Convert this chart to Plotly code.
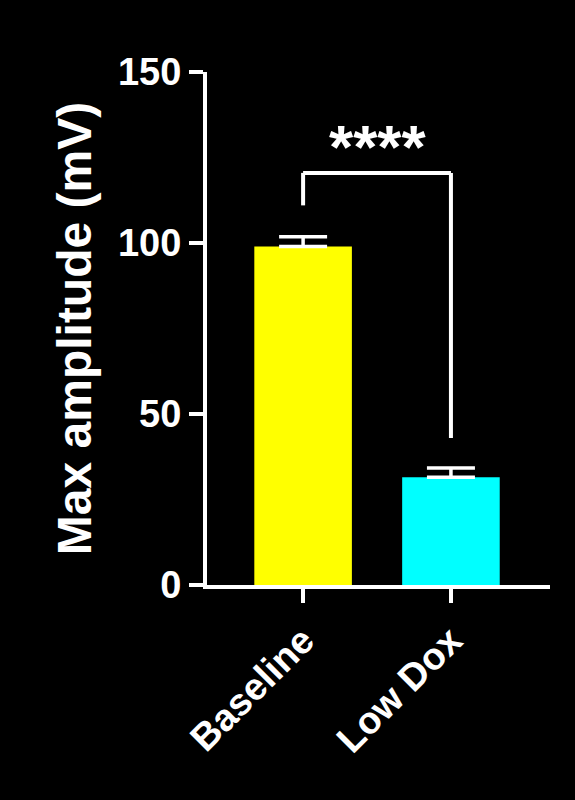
import plotly.graph_objects as go

groups = ["Baseline", "Low Dox"]
means = [99, 31.5]
sems = [2.8, 2.7]
colors = ["#ffff00", "#00ffff"]
sig_label = "****"
bracket_top = 120.5
bracket_legs = [111, 43]

fig = go.Figure()
fig.add_trace(go.Bar(
    x=[0, 1], y=means, width=0.66,
    marker=dict(color=colors, line=dict(width=0)),
    error_y=dict(type="data", array=sems, symmetric=False, arrayminus=[0, 0],
                 color="white", thickness=3.5, width=24),
))

line = dict(color="white", width=4)
fig.add_shape(type="line", x0=0, x1=0, y0=bracket_legs[0], y1=bracket_top, line=line)
fig.add_shape(type="line", x0=0, x1=1, y0=bracket_top, y1=bracket_top, line=line)
fig.add_shape(type="line", x0=1, x1=1, y0=bracket_top, y1=bracket_legs[1], line=line)
fig.add_annotation(x=0.5, y=bracket_top - 3, text="<b>" + sig_label + "</b>", showarrow=False,
                   yanchor="bottom", font=dict(size=62, color="white", family="Arial"))

axfont = dict(family="Arial", size=38, color="white", weight="bold")
fig.update_layout(
    width=575, height=800, paper_bgcolor="black", plot_bgcolor="black",
    margin=dict(l=207, r=25, t=72, b=215), showlegend=False,
    font=dict(family="Arial", color="white"),
    xaxis=dict(range=[-0.65, 1.67], tickvals=[0, 1], ticktext=groups, tickangle=-45,
               showline=True, linecolor="white", linewidth=4, ticks="outside",
               tickwidth=4, ticklen=14, tickcolor="white", showgrid=False,
               zeroline=False, tickfont=axfont),
    yaxis=dict(range=[0, 150], tickvals=[0, 50, 100, 150], showline=True,
               linecolor="white", linewidth=4, ticks="outside", tickwidth=4,
               ticklen=14, tickcolor="white", showgrid=False, zeroline=False,
               tickfont=axfont,
               title=dict(text="Max amplitude (mV)", standoff=12,
                          font=dict(family="Arial", size=48, color="white", weight="bold"))),
)
fig.write_html("out.html", config={"displayModeBar": False},
               post_script="document.body.style.margin='0';document.body.style.background='black';")
